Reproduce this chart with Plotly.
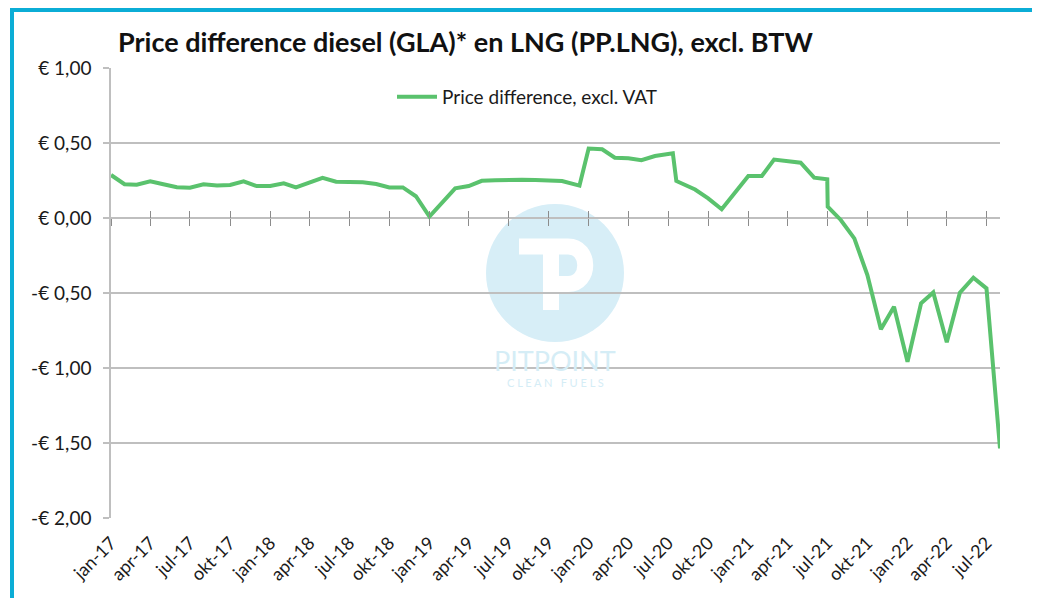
import plotly.graph_objects as go

# ---- data ----
dates = [
    "2017-01-01", "2017-02-01", "2017-03-01", "2017-04-01", "2017-05-01", "2017-06-01",
    "2017-07-01", "2017-08-01", "2017-09-01", "2017-10-01", "2017-11-01", "2017-12-01",
    "2018-01-01", "2018-02-01", "2018-03-01", "2018-04-01", "2018-05-01", "2018-06-01",
    "2018-07-01", "2018-08-01", "2018-09-01", "2018-10-01", "2018-11-01", "2018-12-01",
    "2019-01-01", "2019-02-01", "2019-03-01", "2019-04-01", "2019-05-01", "2019-06-01",
    "2019-07-01", "2019-08-01", "2019-09-01", "2019-10-01", "2019-11-01", "2019-12-11",
    "2020-01-01", "2020-02-01", "2020-03-01", "2020-04-01", "2020-05-01", "2020-06-01",
    "2020-07-12", "2020-07-20", "2020-09-01", "2020-10-01", "2020-11-01",
    "2021-01-01", "2021-02-01", "2021-03-01", "2021-05-01", "2021-06-01",
    "2021-07-01", "2021-07-02", "2021-08-01", "2021-09-01", "2021-10-01", "2021-11-01",
    "2021-12-01", "2022-01-01", "2022-02-01", "2022-03-01", "2022-04-01", "2022-05-01",
    "2022-06-01", "2022-07-01", "2022-08-01",
]
price_diff = [
    0.287, 0.225, 0.222, 0.245, 0.225, 0.205,
    0.202, 0.225, 0.216, 0.220, 0.245, 0.213,
    0.213, 0.231, 0.204, 0.238, 0.268, 0.242,
    0.240, 0.238, 0.227, 0.204, 0.204, 0.145,
    0.010, 0.105, 0.198, 0.213, 0.248, 0.251,
    0.255, 0.255, 0.253, 0.248, 0.247, 0.216,
    0.463, 0.458, 0.402, 0.398, 0.385, 0.413,
    0.431, 0.247, 0.190, 0.131, 0.058,
    0.280, 0.280, 0.390, 0.369, 0.269,
    0.258, 0.076, -0.013, -0.136, -0.380, -0.742,
    -0.591, -0.958, -0.569, -0.496, -0.829, -0.498,
    -0.398, -0.469, -1.536,
]
series_name = "Price difference, excl. VAT"

tick_dates = [
    "2017-01-01", "2017-04-01", "2017-07-01", "2017-10-01",
    "2018-01-01", "2018-04-01", "2018-07-01", "2018-10-01",
    "2019-01-01", "2019-04-01", "2019-07-01", "2019-10-01",
    "2020-01-01", "2020-04-01", "2020-07-01", "2020-10-01",
    "2021-01-01", "2021-04-01", "2021-07-01", "2021-10-01",
    "2022-01-01", "2022-04-01", "2022-07-01",
]
tick_labels = [
    "jan-17", "apr-17", "jul-17", "okt-17",
    "jan-18", "apr-18", "jul-18", "okt-18",
    "jan-19", "apr-19", "jul-19", "okt-19",
    "jan-20", "apr-20", "jul-20", "okt-20",
    "jan-21", "apr-21", "jul-21", "okt-21",
    "jan-22", "apr-22", "jul-22",
]
y_ticks = [1.0, 0.5, 0.0, -0.5, -1.0, -1.5, -2.0]
y_tick_labels = ["€ 1,00", "€ 0,50", "€ 0,00", "-€ 0,50", "-€ 1,00", "-€ 1,50", "-€ 2,00"]
title_text = "Price difference diesel (GLA)* en LNG (PP.LNG), excl. BTW"

# ---- layout geometry (page body has an 8px margin) ----
OFF = 8
W, H = 1040 - OFF, 598 - OFF
PLOT_L, PLOT_R, PLOT_T, PLOT_B = 111, 1000, 68, 518      # in screen pixels
L, T = PLOT_L - OFF, PLOT_T - OFF
R, B = 1040 - PLOT_R, 598 - PLOT_B
PW, PH = PLOT_R - PLOT_L, PLOT_B - PLOT_T
x_range = ["2017-01-01", "2022-08-01"]
y_range = [-2.0, 1.0]


def px(x):
    return (x - PLOT_L) / PW


def py(y):
    return (PLOT_B - y) / PH


FONT = "Lato"
GREEN = "#5AC26D"
GRID = "#BFBFBF"
TICKC = "#8C8C8C"

fig = go.Figure()
fig.add_trace(go.Scatter(
    x=dates, y=price_diff, mode="lines", name=series_name,
    line=dict(color=GREEN, width=4),
))
# carriers for the tick axes at the zero line
for ax in ("x2", "x3"):
    fig.add_trace(go.Scatter(x=dates[:1], y=price_diff[:1], xaxis=ax, mode="lines",
                             line=dict(width=0), showlegend=False, hoverinfo="skip"))

zero_pos = (0 - y_range[0]) / (y_range[1] - y_range[0])
tick_axis = dict(type="date", range=x_range, tickvals=tick_dates, showticklabels=False,
                 showgrid=False, zeroline=False, showline=False, overlaying="x",
                 anchor="free", position=zero_pos, ticklen=7, tickwidth=1.2, tickcolor=TICKC)

shapes = [
    # watermark circle
    dict(type="circle", xref="paper", yref="paper", layer="below",
         x0=px(486), x1=px(624), y0=py(342), y1=py(204),
         fillcolor="#D7EEF7", line=dict(width=0)),
    # watermark "P"
    dict(type="path", xref="paper", yref="paper", layer="below",
         path=(f"M {px(519)} {py(246.5)} L {px(568)} {py(246.5)} "
               f"C {px(591)} {py(246.5)} {px(591)} {py(284)} {px(568)} {py(284)} "
               f"L {px(551)} {py(284)} M {px(551)} {py(246.5)} L {px(551)} {py(310)}"),
         fillcolor="rgba(0,0,0,0)", line=dict(color="white", width=16)),
    # frame
    dict(type="rect", xref="paper", yref="paper",
         x0=px(12), x1=px(1034), y0=py(650), y1=py(10),
         line=dict(color="#0BADD6", width=4), fillcolor="rgba(0,0,0,0)"),
]

annotations = [
    dict(xref="paper", yref="paper", x=px(555), y=py(360), text="PITPOINT",
         showarrow=False, font=dict(family=FONT, size=27, color="#D5EDF6"),
         xanchor="center", yanchor="middle"),
    dict(xref="paper", yref="paper", x=px(555), y=py(382), text="C L E A N   F U E L S",
         showarrow=False, font=dict(family=FONT, size=11, color="#D5EDF6"),
         xanchor="center", yanchor="middle"),
]

fig.update_layout(
    width=W, height=H,
    margin=dict(l=L, r=R, t=T, b=B),
    paper_bgcolor="white", plot_bgcolor="rgba(0,0,0,0)",
    font=dict(family=FONT, color="#1A1A1A"),
    title=dict(text=f"<b>{title_text}</b>", xref="paper", x=px(118), xanchor="left",
               yref="container", y=1 - (43 - OFF) / H, yanchor="middle",
               font=dict(family=FONT, size=27, color="#111111")),
    showlegend=True,
    legend=dict(x=px(392), y=py(97), xanchor="left", yanchor="middle",
                orientation="h", bgcolor="rgba(0,0,0,0)", itemwidth=40,
                font=dict(family=FONT, size=19, color="#1A1A1A")),
    xaxis=dict(type="date", range=x_range, tickvals=tick_dates, ticktext=tick_labels,
               tickangle=-45, showgrid=False, zeroline=False, showline=False, ticks="",
               tickfont=dict(family=FONT, size=18, color="#1A1A1A"), ticklabelstandoff=10),
    xaxis2=dict(tick_axis, ticks="outside"),
    xaxis3=dict(tick_axis, ticks="inside"),
    yaxis=dict(range=y_range, tickvals=y_ticks, ticktext=y_tick_labels,
               showgrid=True, gridcolor=GRID, gridwidth=1.5, zeroline=False,
               showline=True, linecolor=GRID, linewidth=1.5,
               ticks="outside", ticklen=6, tickcolor=GRID, tickwidth=1.5,
               tickfont=dict(family=FONT, size=19, color="#1A1A1A"), ticklabelstandoff=8),
    shapes=shapes,
    annotations=annotations,
)

fig.write_html("out.html")
